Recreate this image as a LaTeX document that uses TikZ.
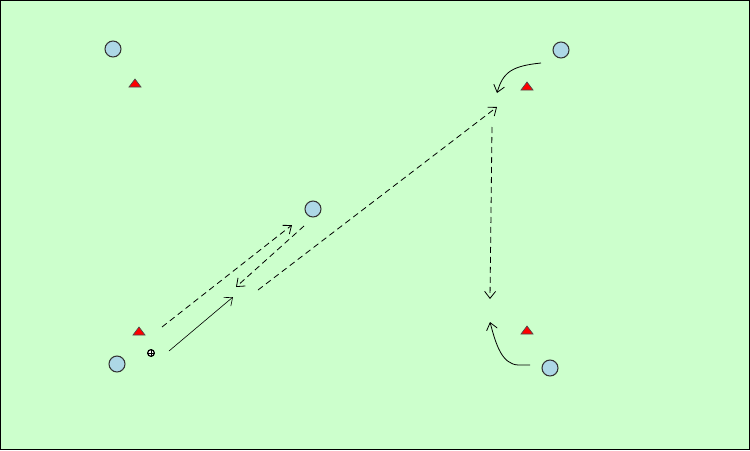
\documentclass[tikz,border=0pt]{standalone}
\usetikzlibrary{arrows.meta,shapes.geometric}
\definecolor{pitch}{HTML}{CCFFCC}
\definecolor{player}{HTML}{ADD8E6}
\definecolor{conered}{HTML}{FF0000}
\tikzset{
  playerdot/.style={circle,draw=black!80,fill=player,line width=0.8pt,minimum size=12pt,inner sep=0pt},
  cone/.style={isosceles triangle,isosceles triangle apex angle=74,shape border rotate=90,draw=black!70,fill=conered,line width=0.5pt,minimum height=6pt,minimum width=9pt,inner sep=0pt},
  ballnode/.style={circle,draw=black,fill=white,line width=0.9pt,minimum size=5pt,inner sep=0pt},
  pass/.style={dashed,dash pattern=on 4.5pt off 3pt,line width=0.6pt,-{Straight Barb[length=5.25pt,width=8.25pt]}},
  run/.style={line width=0.6pt,-{Straight Barb[length=5.25pt,width=8.25pt]}},
}
\begin{document}
\begin{tikzpicture}[x=0.75pt,y=-0.75pt]
\useasboundingbox (0,0) rectangle (750,450);
\draw[fill=pitch,draw=black,line width=1.2pt] (0.6,0.6) rectangle (749.4,449.4);
% players
\node[playerdot] (p1) at (113,49) {};
\node[playerdot] (p2) at (561,50) {};
\node[playerdot] (p3) at (313,209) {};
\node[playerdot] (p4) at (117,364) {};
\node[playerdot] (p5) at (550,368) {};
% cones
\node[cone] (c1) at (135,84) {};
\node[cone] (c2) at (527,87) {};
\node[cone] (c3) at (139,332) {};
\node[cone] (c4) at (527,331) {};
% ball
\node[ballnode] (ball) at (151,353) {};
\draw[line width=0.5pt] (ball.north) -- (ball.south) (ball.west) -- (ball.east);
% arrow end points
\coordinate (a1s) at (162,327); \coordinate (a1e) at (292,225);
\coordinate (a2s) at (304,226); \coordinate (a2e) at (236,287);
\coordinate (a3s) at (169,351); \coordinate (a3e) at (233,297);
\coordinate (a4s) at (258,290); \coordinate (a4e) at (497,107);
\coordinate (a5s) at (492,127); \coordinate (a5e) at (490,299);
\coordinate (a6s) at (541,63);  \coordinate (a6e) at (497,93);
\coordinate (a7s) at (530,365); \coordinate (a7e) at (490,322);
\draw[pass] (a1s) -- (a1e);
\draw[pass] (a2s) -- (a2e);
\draw[run,line width=0.45pt] (a3s) -- (a3e);
\draw[pass] (a4s) -- (a4e);
\draw[pass] (a5s) -- (a5e);
\draw[run] (a6s) .. controls (512,66) and (503,72) .. (a6e);
\draw[run] (a7s) -- (518,365) .. controls (502,364) and (496,345) .. (a7e);
\end{tikzpicture}
\end{document}
